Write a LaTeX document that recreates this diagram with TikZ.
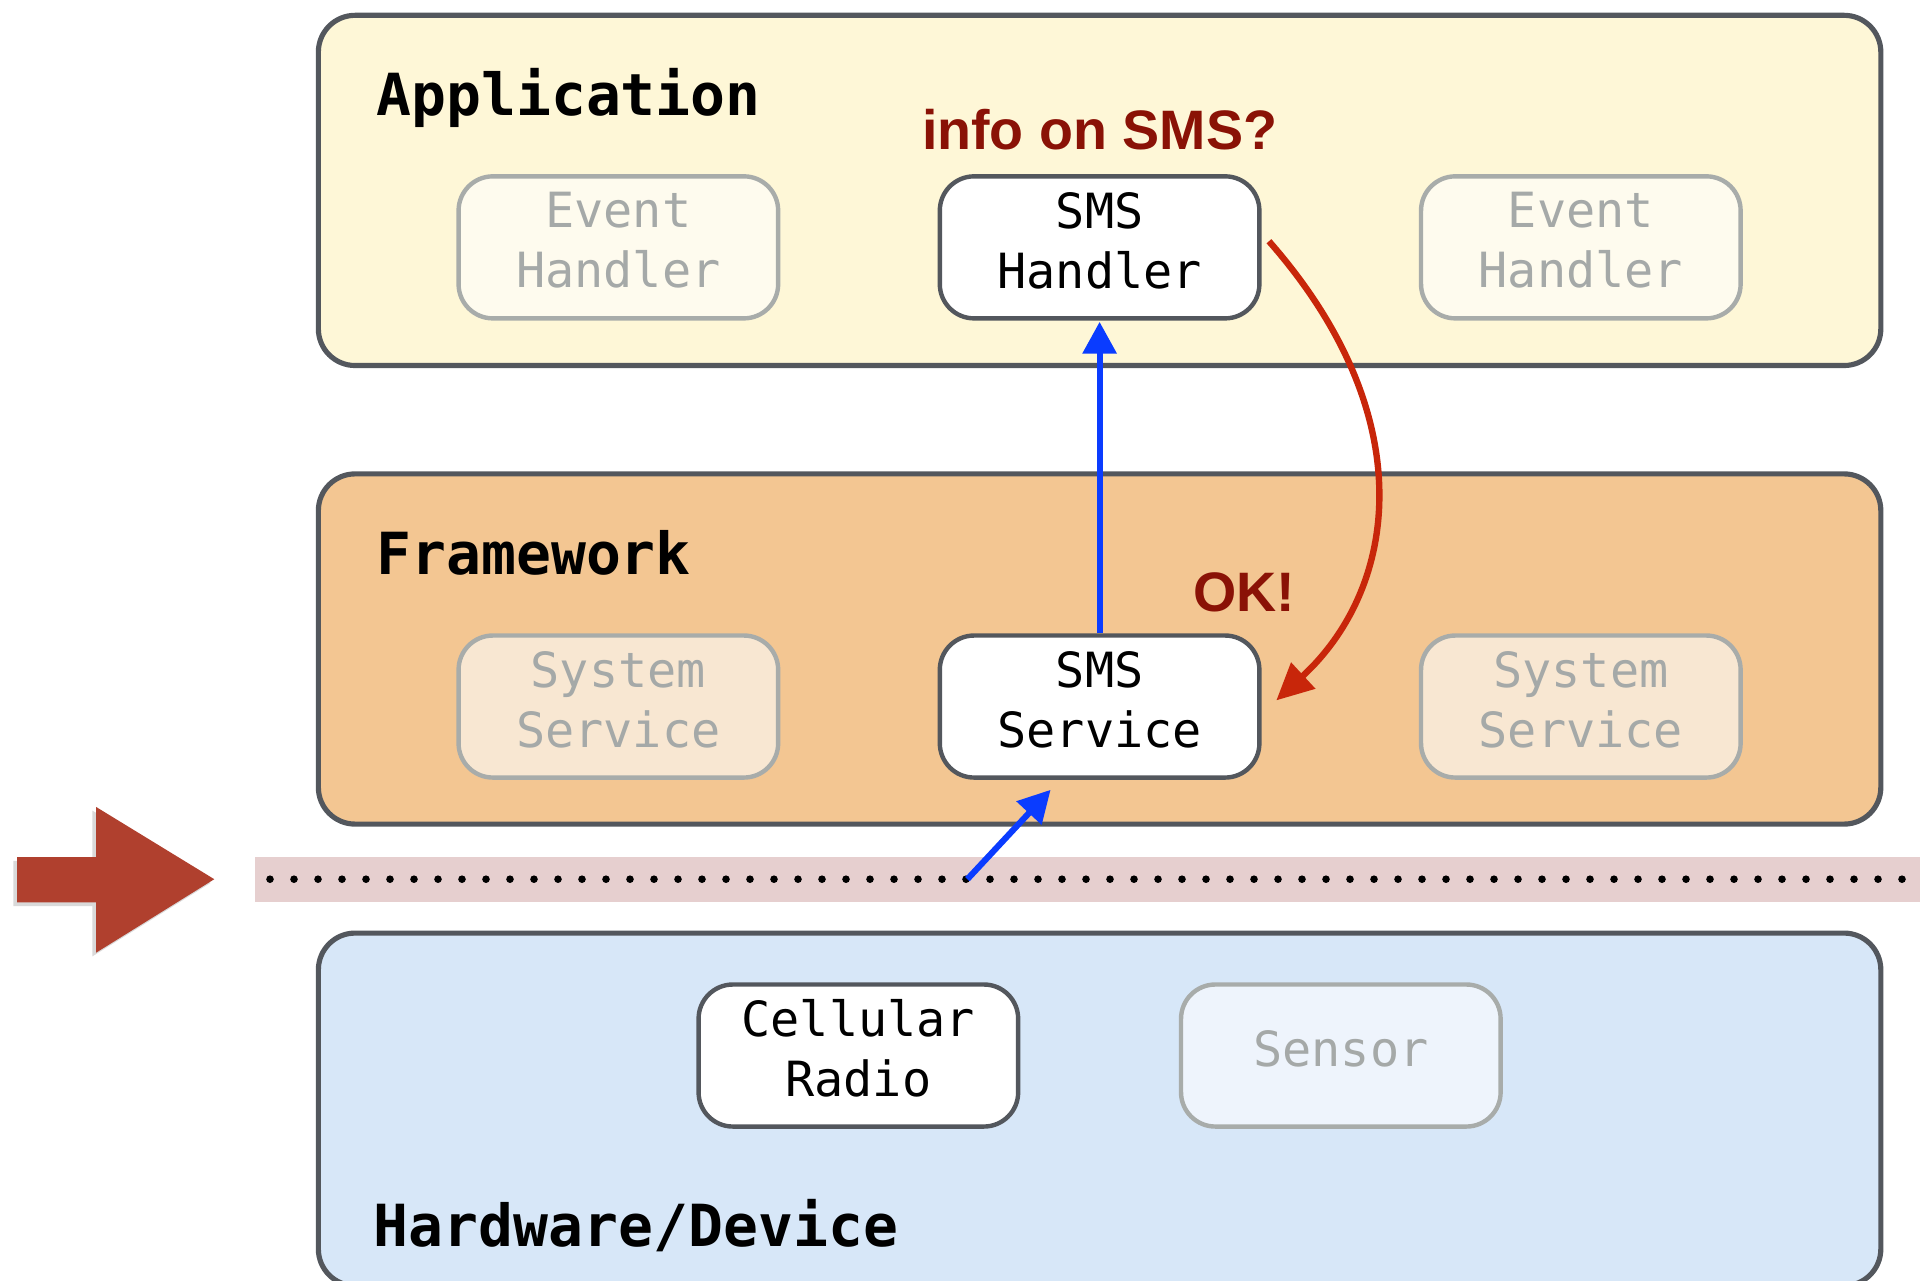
\documentclass[tikz,border=0pt]{standalone}
\usepackage{fontspec}
\setmonofont{DejaVu Sans Mono}
\newfontfamily\notefont{Liberation Sans}
\usetikzlibrary{arrows.meta,shadows}

\definecolor{appfill}{HTML}{FEF7D7}
\definecolor{fwfill}{HTML}{F3C692}
\definecolor{hwfill}{HTML}{D7E7F8}
\definecolor{edgegray}{HTML}{53575D}
\definecolor{ghostedge}{HTML}{A8ACAA}
\definecolor{ghosttext}{HTML}{A5A9A8}
\definecolor{ghostapp}{HTML}{FEFBEE}
\definecolor{ghostfw}{HTML}{F8E7D2}
\definecolor{ghosthw}{HTML}{EEF4FC}
\definecolor{bandpink}{HTML}{E6CFCF}
\definecolor{flowblue}{HTML}{0A3CFF}
\definecolor{replyred}{HTML}{C8260A}
\definecolor{notered}{HTML}{8A1206}
\definecolor{bigarrow}{HTML}{B0402E}

\tikzset{
  layer/.style={draw=edgegray, line width=2.1pt, rounded corners=15pt,
    minimum width=638pt, inner sep=0pt},
  box/.style={draw=edgegray, line width=1.8pt, fill=white, rounded corners=14pt,
    minimum width=130.5pt, minimum height=58pt, inner sep=0pt, align=center,
    font=\ttfamily\fontsize{19.8}{24.5}\selectfont,
    execute at end node={\rule[-6pt]{0pt}{6pt}}},
  ghost/.style={box, draw=ghostedge, text=ghosttext},
  heading/.style={anchor=base west, inner sep=0pt,
    font=\ttfamily\bfseries\fontsize{23.7}{28}\selectfont},
  note/.style={anchor=base, inner sep=0pt, text=notered,
    font=\notefont\bfseries\fontsize{22.7}{27}\selectfont},
  flow/.style={draw=flowblue, line width=2.5pt,
    -{Triangle[length=13pt,width=13.5pt]}},
  reply/.style={draw=replyred, line width=2.6pt,
    -{Triangle[length=15pt,width=14pt]}},
}

\begin{document}
\begin{tikzpicture}[x=0.5pt, y=-0.5pt]
\clip (0,0) rectangle (1568,1046);

% layers
\node[layer, fill=appfill, minimum height=143pt] (app) at (898,155.5) {};
\node[layer, fill=fwfill,  minimum height=143pt] (fw)  at (898,530) {};
\node[layer, fill=hwfill,  minimum height=144pt] (hw)  at (898,906) {};

\node[heading] (appt) at (307,94)   {Application};
\node[heading] (fwt)  at (307,469)  {Framework};
\node[heading] (hwt)  at (305,1018) {Hardware/Device};

% application layer
\node[ghost, fill=ghostapp] (ev1)  at (505,202)  {Event\\Handler};
\node[box]                  (smsh) at (898,202)  {SMS\\Handler};
\node[ghost, fill=ghostapp] (ev2)  at (1291,202) {Event\\Handler};

% framework layer
\node[ghost, fill=ghostfw] (sys1) at (505,577)  {System\\Service};
\node[box]                 (smss) at (898,577)  {SMS\\Service};
\node[ghost, fill=ghostfw] (sys2) at (1291,577) {System\\Service};

% hardware layer
\node[box]                 (radio)  at (701,862)  {Cellular\\Radio};
\node[ghost, fill=ghosthw] (sensor) at (1095,862) {Sensor};

% boundary band with dotted line
\fill[bandpink] (208,700) rectangle (1568,736.5);
\draw[line width=3.1pt, line cap=round, dash pattern=on 0pt off 9.8pt]
  (220.5,718) -- (1568,718);

% pointer arrow at the boundary
\fill[bigarrow, drop shadow={shadow xshift=-1.5pt, shadow yshift=-1.5pt, opacity=0.3}]
  (14,700) -- (78.5,700) -- (78.5,659) -- (175,718) -- (78.5,778)
  -- (78.5,737) -- (14,737) -- cycle;

% flows
\coordinate (tap) at (790,718);
\coordinate (tapend) at (858,645);
\draw[flow] (tap) -- (tapend);
\draw[flow, shorten >=0.5pt] (smss.north) -- (smsh.south);
\draw[reply] ([xshift=3pt,yshift=2.5pt]smsh.east)
  .. controls (1162,340) and (1142,480) .. ([xshift=6pt,yshift=2.5pt]smss.east);

\node[note] (ask) at (898,122)  {info on SMS?};
\node[note] (ok)  at (1016,499) {OK!};
\end{tikzpicture}
\end{document}
